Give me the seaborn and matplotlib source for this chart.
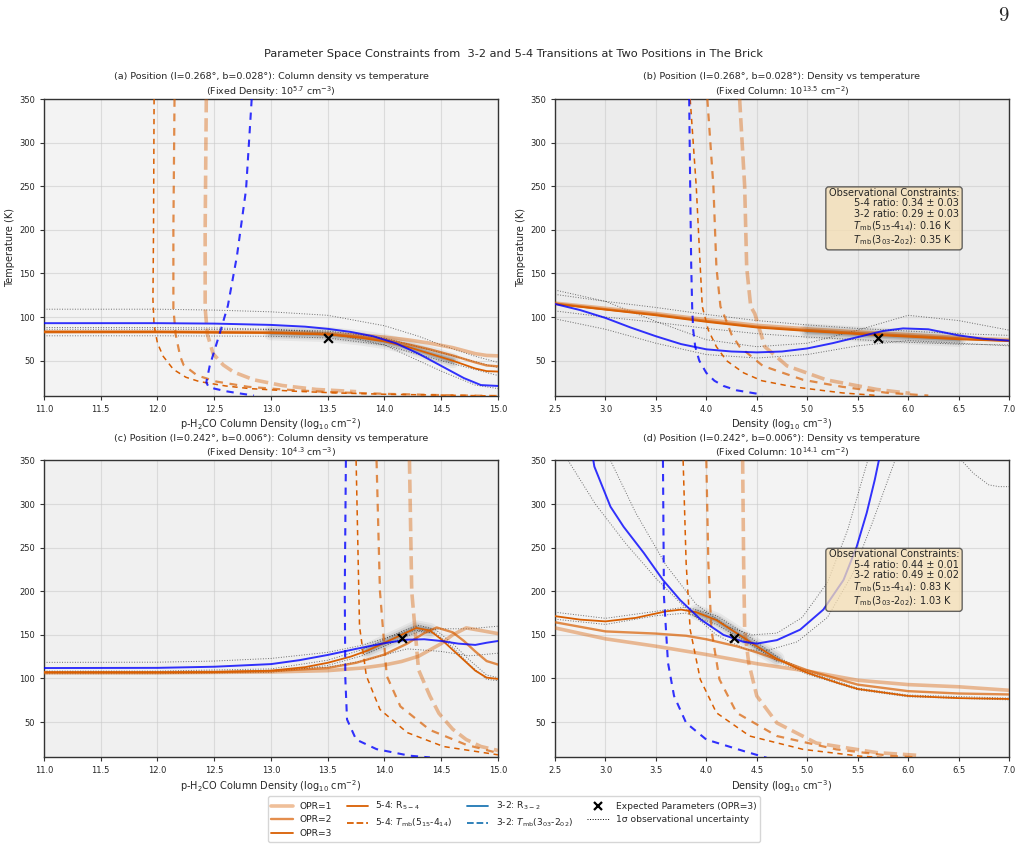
import matplotlib
matplotlib.use('Agg')
import matplotlib.pyplot as plt
from matplotlib.lines import Line2D
import seaborn as sns

sns.set_style('ticks')
plt.rcParams['font.family'] = ['DejaVu Sans']
plt.rcParams['axes.edgecolor'] = '#333333'
plt.rcParams['axes.linewidth'] = 1.0

# ---------------- data ----------------
# colours
ORANGE = '#d95f02'
BLUE = 'blue'

# (a) column density vs temperature, fixed density 10^5.7
a_x_r32 = [11.0, 12.0, 12.5, 13.0, 13.3, 13.5, 13.7, 13.9, 14.1, 14.3, 14.5, 14.7, 14.85, 15.0]
a_t_r32 = [93, 93, 92.5, 91, 89, 86.5, 83, 78, 70, 58, 44, 30, 22, 21]
a_x_r54 = [11.0, 12.0, 13.0, 13.5, 13.8, 14.0, 14.2, 14.4, 14.6, 14.8, 14.9, 15.0]
a_t_r54_opr1 = [83, 83, 82.5, 81, 79, 77, 74, 70, 65, 58, 56, 55.5]
a_t_r54_opr2 = [83, 83, 82, 80.5, 77, 74, 69, 63, 56, 48, 44.5, 43.5]
a_t_r54_opr3 = [83, 83, 82, 80, 76, 72, 66, 58, 50, 41, 38, 37.5]
a_x_tmb54_opr3 = [11.97, 11.965, 11.96, 11.97, 12.0, 12.05, 12.14, 12.25, 12.37, 12.6, 12.81, 13.2, 13.57, 14.0, 14.5, 15.0]
a_t_tmb54_opr3 = [350, 200, 120, 90, 70, 55, 40, 31, 26, 21, 18, 15, 13, 11.5, 10.5, 9.5]
a_x_tmb54_opr2 = [12.15, 12.14, 12.14, 12.16, 12.2, 12.23, 12.35, 12.52, 12.8, 13.1, 13.5, 14.0, 14.5, 15.0]
a_t_tmb54_opr2 = [350, 200, 110, 80, 55, 45, 33, 26, 20, 17, 14, 12, 10.5, 9.5]
a_x_tmb54_opr1 = [12.43, 12.42, 12.42, 12.44, 12.49, 12.58, 12.67, 12.85, 13.1, 13.4, 13.75]
a_t_tmb54_opr1 = [350, 200, 110, 80, 58, 45, 37, 28, 21.5, 17, 14.5]
a_x_tmb32 = [12.83, 12.78, 12.70, 12.62, 12.55, 12.46, 12.43, 12.45, 12.5, 12.6, 12.72, 12.85]
a_t_tmb32 = [350, 246, 170, 113, 82, 44, 25, 20, 18, 15, 12.5, 10]
a_x_sig32 = [11.0, 12.0, 12.5, 13.0, 13.5, 14.0, 14.3, 14.5, 14.8, 15.0]
a_t_sig32_hi = [109, 109, 108, 106, 102, 90, 78, 68, 55, 48]
a_t_sig32_lo = [88, 88, 87.5, 86, 82, 68, 50, 38, 22, 18]
a_x_sig54 = [11.0, 12.0, 13.0, 13.5, 14.0, 14.5, 15.0]
a_t_sig54_hi = [86, 86, 85.5, 84, 76, 59, 42]
a_t_sig54_lo = [78.5, 78.5, 78, 76, 68, 50, 33]
a_best = (13.5, 76.5)

# (b) density vs temperature, fixed column 10^13.5
b_x_r32 = [2.5, 2.75, 3.0, 3.25, 3.5, 3.75, 4.0, 4.25, 4.5, 4.75, 5.0, 5.25, 5.5, 5.75, 5.95, 6.2, 6.5, 6.75, 7.0]
b_t_r32 = [115, 108, 99, 88, 78, 69, 63, 60.5, 59.5, 60.5, 64, 70, 77, 84, 87, 86, 79, 75, 73]
b_x_r54 = [2.5, 3.0, 3.5, 4.0, 4.5, 5.0, 5.5, 6.0, 6.5, 7.0]
b_t_r54_opr1 = [116, 110, 104, 97, 90.5, 86.5, 83, 80, 76.5, 74]
b_t_r54_opr2 = [115.5, 109, 103, 95.5, 89, 85, 81.5, 78.5, 75.5, 73]
b_t_r54_opr3 = [115, 108.5, 102, 94.5, 88, 84, 80.5, 77.5, 74.5, 72.5]
b_x_tmb32 = [3.83, 3.84, 3.85, 3.86, 3.87, 3.89, 3.93, 4.0, 4.08, 4.17, 4.3, 4.56]
b_t_tmb32 = [350, 250, 160, 110, 85, 66, 50, 36, 27, 21, 16, 11]
b_x_tmb54_opr3 = [3.84, 3.90, 3.94, 3.96, 4.02, 4.10, 4.2, 4.37, 4.55, 4.86, 5.35, 5.7]
b_t_tmb54_opr3 = [350, 250, 157, 112, 85, 66, 50, 36, 27, 20, 13, 10]
b_x_tmb54_opr2 = [4.01, 4.07, 4.10, 4.14, 4.17, 4.25, 4.33, 4.56, 4.96, 5.35, 5.8, 6.2]
b_t_tmb54_opr2 = [350, 250, 157, 112, 104, 80, 66, 44, 28, 20, 13, 10]
b_x_tmb54_opr1 = [4.33, 4.38, 4.40, 4.44, 4.48, 4.58, 4.80, 5.19, 5.69, 6.02]
b_t_tmb54_opr1 = [350, 250, 157, 112, 104, 66, 44, 28, 17, 12.5]
b_x_sig = [2.5, 3.0, 3.5, 4.0, 4.5, 5.0, 5.5, 6.0, 6.5, 7.0]
b_t_sig32_hi = [131, 118, 95, 74, 66, 70, 85, 102, 96, 85]
b_t_sig32_lo = [98, 86, 70, 57, 53, 57, 67, 73, 70, 67]
b_t_sig54_hi = [126, 118, 111, 103, 96, 91, 87, 84, 81, 79]
b_t_sig54_lo = [107, 100, 94, 87, 81, 77, 74, 71, 69, 68]
b_best = (5.7, 76)

# (c) column density vs temperature, fixed density 10^4.3
c_x_r32 = [11.0, 12.0, 12.5, 13.0, 13.25, 13.5, 13.75, 14.0, 14.2, 14.35, 14.5, 14.65, 14.8, 14.9, 15.0]
c_t_r32 = [112, 112.2, 113.5, 116.5, 121, 127, 134, 140.5, 144.5, 145, 143, 140, 138.5, 141, 143]
c_x_r54_opr3 = [11.0, 12.0, 12.5, 13.0, 13.3, 13.5, 13.7, 13.85, 14.0, 14.15, 14.28, 14.4, 14.5, 14.6, 14.7, 14.8, 14.9, 15.0]
c_t_r54_opr3 = [107, 107, 107.3, 109, 113, 118, 125, 132, 141, 150, 158, 155, 145, 133, 121, 109, 101, 99.5]
c_x_r54_opr2 = [11.0, 12.0, 12.5, 13.0, 13.5, 13.75, 14.0, 14.2, 14.35, 14.46, 14.6, 14.7, 14.8, 14.9, 15.0]
c_t_r54_opr2 = [107, 107, 107.3, 108.5, 112, 118, 127.5, 140, 152, 158.5, 153, 143, 131, 120, 116]
c_x_r54_opr1 = [11.0, 12.0, 12.5, 13.0, 13.5, 13.8, 14.0, 14.15, 14.3, 14.5, 14.6, 14.72, 14.85, 15.0]
c_t_r54_opr1 = [106.5, 106.5, 107, 107.5, 109, 112, 115.5, 119.5, 125.5, 140, 150, 158, 155, 151.5]
c_x_tmb32 = [13.66, 13.65, 13.655, 13.67, 13.75, 13.93, 14.22, 14.4]
c_t_tmb32 = [350, 200, 100, 53, 30, 19, 11.5, 9.5]
c_x_tmb54_opr3 = [13.75, 13.78, 13.84, 13.96, 14.2, 14.52, 15.0]
c_t_tmb54_opr3 = [350, 160, 103, 64.5, 38, 22, 12.5]
c_x_tmb54_opr2 = [13.93, 13.96, 14.02, 14.14, 14.40, 14.72, 15.0]
c_t_tmb54_opr2 = [350, 200, 103, 68, 41, 24, 14.5]
c_x_tmb54_opr1 = [14.22, 14.24, 14.30, 14.40, 14.48, 14.6, 14.72, 14.85, 15.0]
c_t_tmb54_opr1 = [350, 200, 110, 80, 60, 42, 30, 22, 17.5]
c_x_sig32 = [11.0, 12.0, 12.5, 13.0, 13.5, 13.8, 14.0, 14.2, 14.5, 14.75, 15.0]
c_t_sig32_hi = [118.5, 118.7, 120, 123, 130, 138, 146, 154, 157, 157, 160]
c_t_sig32_lo = [107.5, 107.5, 108, 109, 113, 120, 127, 134, 131, 126, 129]
c_x_sig54 = [11.0, 12.0, 13.0, 13.5, 13.8, 14.0, 14.15, 14.3, 14.45, 14.6, 14.75, 14.9, 15.0]
c_t_sig54_hi = [108.5, 108.5, 111, 121, 133, 145, 154, 161, 156, 140, 121, 104, 101]
c_t_sig54_lo = [105.5, 105.5, 107, 115, 126, 137, 146, 154, 152, 136, 116, 99, 97.5]
c_best = (14.15, 147)

# (d) density vs temperature, fixed column 10^14.1
d_x_r32 = [2.88, 2.89, 3.05, 3.18, 3.38, 3.57, 3.74, 3.94, 4.17, 4.37, 4.5, 4.7, 4.93, 5.16, 5.36, 5.49, 5.59, 5.67, 5.71]
d_t_r32 = [350, 343, 297, 274, 244, 213, 190, 168, 150, 142, 140, 144, 156, 179, 213, 251, 290, 328, 350]
d_x_r54_opr3 = [2.5, 2.75, 3.0, 3.3, 3.6, 3.75, 3.9, 4.1, 4.3, 4.5, 4.7, 5.0, 5.3, 5.5, 6.0, 6.5, 7.0]
d_t_r54_opr3 = [171.5, 167.5, 165.5, 169.5, 177, 179, 176, 167, 152, 137, 122.5, 106.5, 95, 88, 80, 77.5, 76.5]
d_x_r54_opr2 = [2.5, 3.0, 3.5, 3.8, 4.0, 4.3, 4.5, 4.8, 5.0, 5.5, 6.0, 6.5, 7.0]
d_t_r54_opr2 = [164.5, 154, 151.5, 149, 145, 137, 130, 118, 109.5, 93, 85.5, 82.8, 81.7]
d_x_r54_opr1 = [2.5, 3.0, 3.5, 4.0, 4.5, 5.0, 5.5, 6.0, 6.5, 7.0]
d_t_r54_opr1 = [158, 145.5, 137, 127.5, 117, 108.5, 98, 93, 90.5, 86.5]
d_x_tmb32 = [3.57, 3.58, 3.62, 3.68, 3.80, 4.0, 4.37, 4.6]
d_t_tmb32 = [350, 194, 118, 80, 49, 30, 16.8, 9]
d_x_tmb54_opr3 = [3.77, 3.80, 3.84, 3.94, 4.10, 4.43, 4.96, 5.52, 5.8]
d_t_tmb54_opr3 = [350, 232, 156, 99, 60.7, 34, 18.7, 11, 9]
d_x_tmb54_opr2 = [4.0, 4.02, 4.05, 4.13, 4.30, 4.70, 5.29, 5.85, 6.1]
d_t_tmb54_opr2 = [350, 232, 156, 99, 60.7, 34, 18.7, 11, 9.5]
d_x_tmb54_opr1 = [4.36, 4.37, 4.38, 4.42, 4.50, 4.70, 5.09, 5.69, 6.08]
d_t_tmb54_opr1 = [350, 232, 156, 118, 80, 49, 26, 15, 12]
d_x_sig32_in = [3.05, 3.3, 3.6, 3.9, 4.2, 4.45, 4.7, 4.95, 5.2, 5.4, 5.6]
d_t_sig32_in = [350, 290, 230, 185, 160, 150, 152, 170, 210, 270, 350]
d_x_sig32_out = [2.63, 2.9, 3.2, 3.5, 3.8, 4.1, 4.4, 4.6, 4.9, 5.2, 5.45, 5.65, 5.87]
d_t_sig32_out = [350, 300, 255, 215, 180, 150, 133, 132, 142, 170, 220, 280, 350]
d_x_sig32_arc = [6.53, 6.65, 6.8, 6.9, 7.0]
d_t_sig32_arc = [350, 335, 322, 320, 320]
d_x_sig54 = [2.5, 3.0, 3.5, 3.8, 4.1, 4.4, 4.7, 5.0, 5.5, 6.0, 7.0]
d_t_sig54_hi = [176, 169, 177, 182, 172, 150, 125, 108, 89, 81, 77.5]
d_t_sig54_lo = [168, 162, 172, 175, 162, 142, 120, 105, 87, 79, 75.5]
d_best = (4.27, 146)

box_b = ['0.34 ± 0.03', '0.29 ± 0.03', '0.16 K', '0.35 K']
box_d = ['0.44 ± 0.01', '0.49 ± 0.02', '0.83 K', '1.03 K']

DASH = (0, (3.5, 3.0))


def draw(ax, xs, ys, color, lw, ls='-', alpha=1.0, z=3):
    sns.lineplot(x=xs, y=ys, ax=ax, color=color, linewidth=lw, linestyle=ls,
                 alpha=alpha, estimator=None, sort=False, legend=False, zorder=z)


def smudge(ax, xs, ys, lo, hi):
    sx = [x for x in xs if lo <= x <= hi]
    sy = [y for x, y in zip(xs, ys) if lo <= x <= hi]
    for lw, al in [(11, 0.05), (8, 0.07), (5, 0.1), (3, 0.14)]:
        ax.plot(sx, sy, color='black', lw=lw, alpha=al, solid_capstyle='round', zorder=2)


def panel(ax, d, face):
    ax.set_facecolor(face)
    ax.grid(True, color='#c8c8c8', alpha=0.55, lw=0.8)
    smudge(ax, d['r54'][0][0], d['r54'][0][1], *d['smudge'])
    for xs, ys in d['sig']:
        draw(ax, xs, ys, 'black', 0.7, ':', 0.55, z=2)
    # 5-4 ratio, OPR=1,2,3 (light -> dark)
    (x3, t3), (x2, t2), (x1, t1) = d['r54']
    draw(ax, x1, t1, ORANGE, 2.6, '-', 0.4)
    draw(ax, x2, t2, ORANGE, 1.7, '-', 0.7)
    draw(ax, x3, t3, ORANGE, 1.3, '-', 1.0)
    (dx3, dt3), (dx2, dt2), (dx1, dt1) = d['tmb54']
    draw(ax, dx1, dt1, ORANGE, 2.6, '--', 0.4)
    draw(ax, dx2, dt2, ORANGE, 1.6, DASH, 0.7)
    draw(ax, dx3, dt3, ORANGE, 1.1, DASH, 1.0)
    draw(ax, d['r32'][0], d['r32'][1], BLUE, 1.4, '-', 0.8)
    draw(ax, d['tmb32'][0], d['tmb32'][1], BLUE, 1.5, DASH, 0.8)
    ax.scatter([d['best'][0]], [d['best'][1]], marker='x', color='black', s=40,
               linewidths=1.6, zorder=6)
    ax.set_xlim(*d['xlim'])
    ax.set_ylim(10, 350)
    ax.set_yticks([50, 100, 150, 200, 250, 300, 350])
    ax.tick_params(labelsize=6, length=3, width=0.8, color='#333333')
    ax.set_title(d['title'], fontsize=6.8, pad=3, linespacing=1.3)
    ax.set_xlabel(d['xlabel'], fontsize=7, labelpad=2)
    if d['ylabel']:
        ax.set_ylabel('Temperature (K)', fontsize=7, labelpad=3)


def constraint_box(ax, vals):
    txt = ('Observational Constraints:\n'
           '        5-4 ratio: ' + vals[0] + '\n'
           '        3-2 ratio: ' + vals[1] + '\n'
           '        $T_{\\rm mb}$(5$_{15}$-4$_{14}$): ' + vals[2] + '\n'
           '        $T_{\\rm mb}$(3$_{03}$-2$_{02}$): ' + vals[3])
    ax.text(0.603, 0.7, txt, transform=ax.transAxes, fontsize=7, va='top', ha='left',
            linespacing=1.05, zorder=7,
            bbox=dict(boxstyle='round,pad=0.3', facecolor='wheat', alpha=0.75,
                      edgecolor='#333333'))


col_xlabel = 'p-H$_2$CO Column Density (log$_{10}$ cm$^{-2}$)'
den_xlabel = 'Density (log$_{10}$ cm$^{-3}$)'

panels = [
    dict(r32=(a_x_r32, a_t_r32),
         r54=[(a_x_r54, a_t_r54_opr3), (a_x_r54, a_t_r54_opr2), (a_x_r54, a_t_r54_opr1)],
         tmb54=[(a_x_tmb54_opr3, a_t_tmb54_opr3), (a_x_tmb54_opr2, a_t_tmb54_opr2),
                (a_x_tmb54_opr1, a_t_tmb54_opr1)],
         tmb32=(a_x_tmb32, a_t_tmb32),
         sig=[(a_x_sig32, a_t_sig32_hi), (a_x_sig32, a_t_sig32_lo),
              (a_x_sig54, a_t_sig54_hi), (a_x_sig54, a_t_sig54_lo)],
         best=a_best, smudge=(12.9, 14.6), xlim=(11, 15), xlabel=col_xlabel, ylabel=True,
         title='(a) Position (l=0.268°, b=0.028°): Column density vs temperature\n'
               '(Fixed Density: $10^{5.7}$ cm$^{-3}$)'),
    dict(r32=(b_x_r32, b_t_r32),
         r54=[(b_x_r54, b_t_r54_opr3), (b_x_r54, b_t_r54_opr2), (b_x_r54, b_t_r54_opr1)],
         tmb54=[(b_x_tmb54_opr3, b_t_tmb54_opr3), (b_x_tmb54_opr2, b_t_tmb54_opr2),
                (b_x_tmb54_opr1, b_t_tmb54_opr1)],
         tmb32=(b_x_tmb32, b_t_tmb32),
         sig=[(b_x_sig, b_t_sig32_hi), (b_x_sig, b_t_sig32_lo),
              (b_x_sig, b_t_sig54_hi), (b_x_sig, b_t_sig54_lo)],
         best=b_best, smudge=(5.0, 6.5), xlim=(2.5, 7), xlabel=den_xlabel, ylabel=True,
         title='(b) Position (l=0.268°, b=0.028°): Density vs temperature\n'
               '(Fixed Column: $10^{13.5}$ cm$^{-2}$)'),
    dict(r32=(c_x_r32, c_t_r32),
         r54=[(c_x_r54_opr3, c_t_r54_opr3), (c_x_r54_opr2, c_t_r54_opr2),
              (c_x_r54_opr1, c_t_r54_opr1)],
         tmb54=[(c_x_tmb54_opr3, c_t_tmb54_opr3), (c_x_tmb54_opr2, c_t_tmb54_opr2),
                (c_x_tmb54_opr1, c_t_tmb54_opr1)],
         tmb32=(c_x_tmb32, c_t_tmb32),
         sig=[(c_x_sig32, c_t_sig32_hi), (c_x_sig32, c_t_sig32_lo),
              (c_x_sig54, c_t_sig54_hi), (c_x_sig54, c_t_sig54_lo)],
         best=c_best, smudge=(13.8, 14.45), xlim=(11, 15), xlabel=col_xlabel, ylabel=False,
         title='(c) Position (l=0.242°, b=0.006°): Column density vs temperature\n'
               '(Fixed Density: $10^{4.3}$ cm$^{-3}$)'),
    dict(r32=(d_x_r32, d_t_r32),
         r54=[(d_x_r54_opr3, d_t_r54_opr3), (d_x_r54_opr2, d_t_r54_opr2),
              (d_x_r54_opr1, d_t_r54_opr1)],
         tmb54=[(d_x_tmb54_opr3, d_t_tmb54_opr3), (d_x_tmb54_opr2, d_t_tmb54_opr2),
                (d_x_tmb54_opr1, d_t_tmb54_opr1)],
         tmb32=(d_x_tmb32, d_t_tmb32),
         sig=[(d_x_sig32_in, d_t_sig32_in), (d_x_sig32_out, d_t_sig32_out),
              (d_x_sig32_arc, d_t_sig32_arc),
              (d_x_sig54, d_t_sig54_hi), (d_x_sig54, d_t_sig54_lo)],
         best=d_best, smudge=(3.8, 4.9), xlim=(2.5, 7), xlabel=den_xlabel, ylabel=False,
         title='(d) Position (l=0.242°, b=0.006°): Density vs temperature\n'
               '(Fixed Column: $10^{14.1}$ cm$^{-2}$)'),
]
faces = ['#f3f3f3', '#ececec', '#f0f0f0', '#f3f3f3']

fig, axes = plt.subplots(2, 2, figsize=(10.28, 8.68), dpi=100)
fig.subplots_adjust(left=0.0428, right=0.9815, top=0.8859, bottom=0.1279,
                    wspace=0.1256, hspace=0.219)

for ax, d, face in zip(axes.flat, panels, faces):
    panel(ax, d, face)

constraint_box(axes[0, 1], box_b)
constraint_box(axes[1, 1], box_d)

fig.suptitle('Parameter Space Constraints from  3-2 and 5-4 Transitions at Two Positions in The Brick',
             fontsize=8.2, y=0.944)
fig.text(0.976, 0.983, r'$\mathrm{9}$', math_fontfamily='cm', fontsize=15,
         ha='center', va='center')

# legend
handles = [
    Line2D([], [], color=ORANGE, lw=2.6, alpha=0.4),
    Line2D([], [], color=ORANGE, lw=1.7, alpha=0.7),
    Line2D([], [], color=ORANGE, lw=1.3),
    Line2D([], [], color=ORANGE, lw=1.3),
    Line2D([], [], color=ORANGE, lw=1.3, ls='--'),
    Line2D([], [], color='#1f77b4', lw=1.3),
    Line2D([], [], color='#1f77b4', lw=1.3, ls='--'),
    Line2D([], [], color='black', marker='x', ls='none', markersize=6, markeredgewidth=1.6),
    Line2D([], [], color='black', lw=0.7, ls=':'),
]
labels = ['OPR=1', 'OPR=2', 'OPR=3',
          '5-4: R$_{5-4}$', '5-4: $T_{\\rm mb}$(5$_{15}$-4$_{14}$)',
          '3-2: R$_{3-2}$', '3-2: $T_{\\rm mb}$(3$_{03}$-2$_{02}$)',
          'Expected Parameters (OPR=3)', '1σ observational uncertainty']
fig.legend(handles, labels, loc='lower center', bbox_to_anchor=(0.5, 0.025), ncol=4,
           fontsize=6.6, frameon=True, handlelength=2.3, columnspacing=1.6)

plt.savefig('out.png', dpi=100)
